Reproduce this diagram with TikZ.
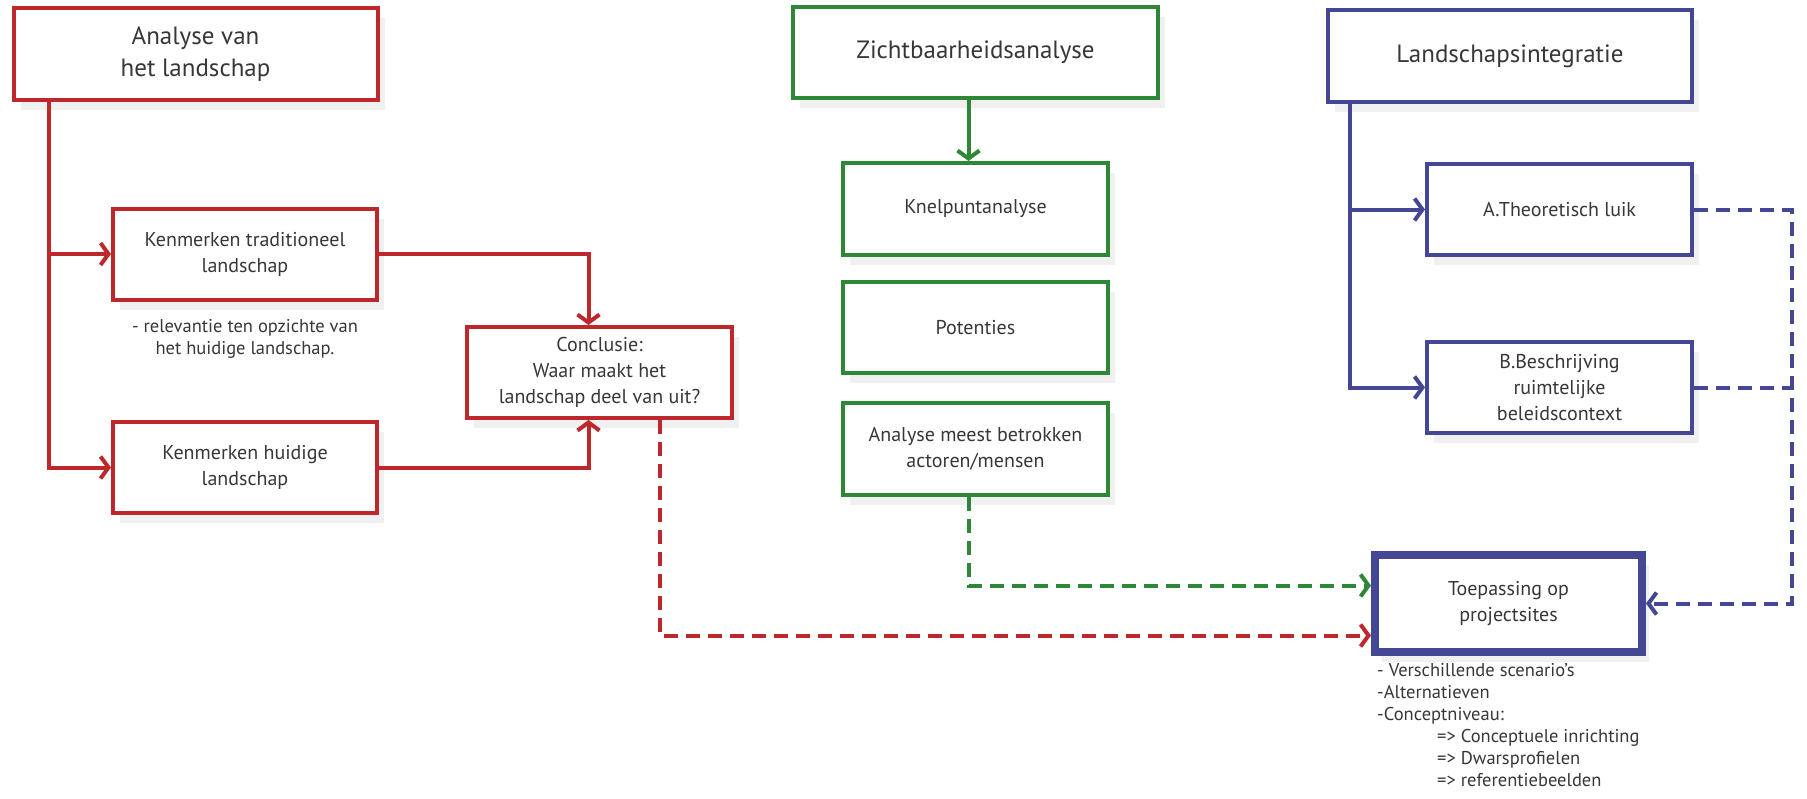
\documentclass[tikz,border=0pt]{standalone}
\usepackage{fontspec}
\setmainfont{PT Sans}
\usetikzlibrary{arrows.meta,shadows}
\definecolor{rood}{RGB}{190,40,45}
\definecolor{groen}{RGB}{45,135,55}
\definecolor{blauw}{RGB}{68,72,148}
\definecolor{tekst}{RGB}{55,55,55}
\tikzset{
	box/.style={draw, line width=4pt, fill=white, inner sep=2pt, align=center, text=tekst,
		font=\fontsize{20}{26}\selectfont,
		drop shadow={opacity=0.12, shadow xshift=7pt, shadow yshift=-10pt}},
	kop/.style={box, font=\fontsize{25}{32}\selectfont, minimum width=364pt, minimum height=92pt},
	klein/.style={box, minimum width=265pt, minimum height=91pt},
	lijn/.style={line width=4pt, -{Straight Barb[length=8pt,width=22pt]}},
	stip/.style={lijn, dash pattern=on 14pt off 8pt},
	noot/.style={text=tekst, inner sep=0pt, font=\fontsize{18.5}{22}\selectfont}
}
\begin{document}
\begin{tikzpicture}[x=1pt,y=-1pt]
				\useasboundingbox (0,0) rectangle (1807,798);
				% analyse van het landschap
				\node[kop, draw=rood] (analyse) at (195.5,54) {Analyse van\\het landschap};
				\node[klein, draw=rood, minimum width=264pt] (trad) at (245,254) {Kenmerken traditioneel\\landschap};
				\node[noot, align=center] (relevantie) at (245,339) {- relevantie ten opzichte van\\het huidige landschap.};
				\node[klein, draw=rood, minimum width=264pt] (huidig) at (245,467.5) {Kenmerken huidige\\landschap};
				\node[klein, draw=rood] (concl) at (599.5,372.5) {Conclusie:\\Waar maakt het\\landschap deel van uit?};
				% zichtbaarheid
				\node[kop, draw=groen, minimum width=365pt, minimum height=91pt] (zicht) at (975.5,52.5) {Zichtbaarheidsanalyse};
				\node[klein, draw=groen, minimum height=92pt] (knelp) at (975.5,209) {Knelpuntanalyse};
				\node[klein, draw=groen] (pot) at (975.5,327.5) {Potenties};
				\node[klein, draw=groen, minimum height=92pt] (actor) at (975.5,449) {Analyse meest betrokken\\actoren/mensen};
				% integratie
				\node[kop, draw=blauw] (integr) at (1510,56) {Landschapsintegratie};
				\node[klein, draw=blauw] (theo) at (1559.5,209.5) {A.Theoretisch luik};
				\node[klein, draw=blauw] (beleid) at (1559.5,387.5) {B.Beschrijving\\ruimtelijke\\beleidscontext};
				\node[klein, draw=blauw, line width=8pt, minimum width=267pt, minimum height=97pt] (toep) at (1508.5,603.5) {Toepassing op\\projectsites};
				\node[noot, anchor=north west, align=left] (lijst) at (1377,663) {- Verschillende scenario's\\-Alternatieven\\-Conceptniveau:\\
					\hspace*{60pt}=> Conceptuele inrichting\\\hspace*{60pt}=> Dwarsprofielen\\\hspace*{60pt}=> referentiebeelden};

				\draw[lijn, rood] ([xshift=37pt]analyse.south west) |- (trad.west);
				\draw[lijn, rood] ([xshift=37pt]analyse.south west) |- (huidig.west);
				\draw[lijn, rood] (trad.east) -| ([xshift=-11pt]concl.north);
				\draw[lijn, rood] (huidig.east) -| ([xshift=-11pt]concl.south);
				\draw[stip, rood] ([xshift=60pt]concl.south) |- ([yshift=-32pt]toep.west);

				\draw[lijn, groen] ([xshift=-7pt]zicht.south) -- ([xshift=-7pt]knelp.north);
				\draw[stip, groen] ([xshift=-7pt]actor.south) |- ([yshift=18pt]toep.west);

				\draw[lijn, blauw] ([xshift=24pt]integr.south west) |- (theo.west);
				\draw[lijn, blauw] ([xshift=24pt]integr.south west) |- (beleid.west);
				\draw[stip, blauw] (theo.east) -- ++(98,0) |- (toep.east);
				\draw[stip, blauw, -] (beleid.east) -- ++(98,0);
\end{tikzpicture}
\end{document}
